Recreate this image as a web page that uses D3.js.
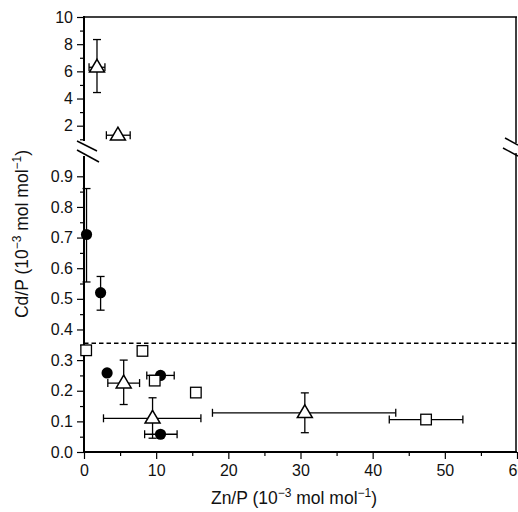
<!DOCTYPE html>
<html>
<head>
<meta charset="utf-8">
<script src="https://cdn.jsdelivr.net/npm/d3@7"></script>
<style>
  body { margin: 0; background: #fff; }
  svg { font-family: "Liberation Sans", Arial, sans-serif; }
</style>
</head>
<body>
<div id="chart"></div>
<script>
  // values (Zn/P, Cd/P in 10^-3 mol/mol)
  // [x, y, xLo, xHi, yLo, yHi]  (null = no error bar)
  var circles = [
    [0.35, 0.71, null, null, 0.555, 0.86],
    [2.3, 0.52, null, null, 0.463, 0.573],
    [3.2, 0.258, null, null, null, null],
    [10.6, 0.25, 8.7, 12.5, null, null],
    [10.6, 0.058, 8.4, 12.9, null, null]
  ];
  var squares = [
    [0.3, 0.332, null, null, null, null],
    [8.1, 0.33, null, null, null, null],
    [9.8, 0.233, null, null, null, null],
    [15.5, 0.194, null, null, null, null],
    [47.4, 0.106, 42.3, 52.5, null, null]
  ];
  var trianglesLow = [
    [5.5, 0.225, 3.3, 7.7, 0.155, 0.30],
    [9.5, 0.11, 2.7, 16.2, 0.045, 0.177],
    [30.6, 0.128, 17.8, 43.2, 0.063, 0.193]
  ];
  var trianglesHigh = [
    [1.8, 6.3, 0.7, 2.9, 4.44, 8.34],
    [4.7, 1.3, 3.1, 6.4, null, null]
  ];
  var dashedLevel = 0.355;

  var xTicks = [0, 10, 20, 30, 40, 50, 60];
  var yLowTicks = [0, 0.1, 0.2, 0.3, 0.4, 0.5, 0.6, 0.7, 0.8, 0.9];
  var yHighTicks = [2, 4, 6, 8, 10];

  var svgWidth = 518, svgHeight = 512;
  var plotLeft = 84, plotRight = 517, plotBottom = 452, plotTop = 17;
  var lowTop = 156, highBottom = 141;

  var svg = d3.select("#chart").append("svg")
    .attr("width", svgWidth)
    .attr("height", svgHeight);

  var x = d3.scaleLinear().domain([0, 60]).range([plotLeft, plotRight]);
  var yLow = d3.scaleLinear().domain([0, 0.9]).range([plotBottom, 176.3]);
  var yHigh = d3.scaleLinear().domain([2, 10]).range([125.7, plotTop]);

  // axes
  svg.append("g")
    .attr("transform", `translate(0, ${plotBottom})`)
    .call(d3.axisBottom(x).tickValues(xTicks).tickSize(7).tickPadding(6).tickFormat(d3.format("d")));
  svg.append("g")
    .attr("transform", `translate(0, ${plotBottom})`)
    .call(d3.axisBottom(x).tickValues(d3.range(5, 60, 10)).tickSize(4).tickFormat(""));

  svg.append("g")
    .attr("transform", `translate(${plotLeft}, 0)`)
    .call(d3.axisLeft(yLow).tickValues(yLowTicks).tickSize(7).tickPadding(4).tickFormat(d3.format(".1f")));
  svg.append("g")
    .attr("transform", `translate(${plotLeft}, 0)`)
    .call(d3.axisLeft(yLow).tickValues(d3.range(0.05, 0.95, 0.1)).tickSize(4).tickFormat(""));

  svg.append("g")
    .attr("transform", `translate(${plotLeft}, 0)`)
    .call(d3.axisLeft(yHigh).tickValues(yHighTicks).tickSize(7).tickPadding(4).tickFormat(d3.format("d")));
  svg.append("g")
    .attr("transform", `translate(${plotLeft}, 0)`)
    .call(d3.axisLeft(yHigh).tickValues([1, 3, 5, 7, 9]).tickSize(4).tickFormat(""));

  svg.selectAll(".domain").remove();
  svg.selectAll(".tick line").attr("stroke", "#000").attr("stroke-width", 1.2);
  svg.selectAll(".tick text")
    .attr("fill", "#111")
    .style("font-size", "16px")
    .style("font-family", "'Liberation Sans', Arial, sans-serif");

  // frame lines with the break
  var frame = svg.append("g").attr("stroke", "#000").attr("fill", "none");
  frame.append("line").attr("x1", plotLeft).attr("x2", plotLeft).attr("y1", plotTop - 1).attr("y2", highBottom).attr("stroke-width", 2);
  frame.append("line").attr("x1", plotLeft).attr("x2", plotLeft).attr("y1", lowTop).attr("y2", plotBottom + 1).attr("stroke-width", 2);
  frame.append("line").attr("x1", plotLeft - 1).attr("x2", plotRight).attr("y1", plotBottom).attr("y2", plotBottom).attr("stroke-width", 2.2);
  frame.append("line").attr("x1", plotLeft).attr("x2", plotRight).attr("y1", plotTop).attr("y2", plotTop).attr("stroke-width", 1.5);
  frame.append("line").attr("x1", 516).attr("x2", 516).attr("y1", plotTop).attr("y2", 143).attr("stroke-width", 1.5);
  frame.append("line").attr("x1", 516).attr("x2", 516).attr("y1", 153).attr("y2", plotBottom).attr("stroke-width", 1.5);

  // break marks
  [[77, 141, 97, 151], [77, 150, 99, 162], [505, 138, 518, 145], [503, 148, 518, 156]].forEach(function (b) {
    frame.append("line")
      .attr("x1", b[0]).attr("y1", b[1]).attr("x2", b[2]).attr("y2", b[3])
      .attr("stroke-width", 1.5);
  });

  // dashed line
  svg.append("line")
    .attr("x1", plotLeft).attr("x2", 516)
    .attr("y1", yLow(dashedLevel)).attr("y2", yLow(dashedLevel))
    .attr("stroke", "#000").attr("stroke-width", 1.5)
    .attr("stroke-dasharray", "4.5,3");

  // error bars
  var errG = svg.append("g").attr("stroke", "#000").attr("stroke-width", 1.3).attr("fill", "none");
  var cap = 4;
  function drawErrors(data, y) {
    data.forEach(function (d) {
      var cx = x(d[0]), cy = y(d[1]);
      if (d[2] != null) {
        errG.append("line").attr("x1", x(d[2])).attr("x2", x(d[3])).attr("y1", cy).attr("y2", cy);
        [d[2], d[3]].forEach(function (v) {
          errG.append("line").attr("x1", x(v)).attr("x2", x(v)).attr("y1", cy - cap).attr("y2", cy + cap);
        });
      }
      if (d[4] != null) {
        errG.append("line").attr("x1", cx).attr("x2", cx).attr("y1", y(d[4])).attr("y2", y(d[5]));
        [d[4], d[5]].forEach(function (v) {
          errG.append("line").attr("x1", cx - cap).attr("x2", cx + cap).attr("y1", y(v)).attr("y2", y(v));
        });
      }
    });
  }
  drawErrors(circles, yLow);
  drawErrors(squares, yLow);
  drawErrors(trianglesLow, yLow);
  drawErrors(trianglesHigh, yHigh);

  // markers
  var marks = svg.append("g");
  marks.selectAll("circle.pt")
    .data(circles)
    .enter()
    .append("circle")
    .attr("class", "pt")
    .attr("cx", d => x(d[0]))
    .attr("cy", d => yLow(d[1]))
    .attr("r", 5.6)
    .attr("fill", "#000");

  marks.selectAll("rect.pt")
    .data(squares)
    .enter()
    .append("rect")
    .attr("class", "pt")
    .attr("x", d => x(d[0]) - 5.3)
    .attr("y", d => yLow(d[1]) - 5.3)
    .attr("width", 10.6)
    .attr("height", 10.6)
    .attr("fill", "#fff")
    .attr("stroke", "#000")
    .attr("stroke-width", 1.3);

  function triPath(cx, cy) {
    return `M${cx},${cy - 8}L${cx + 7.5},${cy + 4.8}L${cx - 7.5},${cy + 4.8}Z`;
  }
  marks.selectAll("path.lo")
    .data(trianglesLow)
    .enter()
    .append("path")
    .attr("class", "lo")
    .attr("d", d => triPath(x(d[0]), yLow(d[1])))
    .attr("fill", "#fff")
    .attr("stroke", "#000")
    .attr("stroke-width", 1.5);
  marks.selectAll("path.hi")
    .data(trianglesHigh)
    .enter()
    .append("path")
    .attr("class", "hi")
    .attr("d", d => triPath(x(d[0]), yHigh(d[1])))
    .attr("fill", "#fff")
    .attr("stroke", "#000")
    .attr("stroke-width", 1.5);

  // axis titles
  function addTitle(t) {
    t.append("tspan").text(t.attr("data-lead"));
    t.append("tspan").attr("dy", -7).style("font-size", "12px").text("\u22123");
    t.append("tspan").attr("dy", 7).text(" mol mol");
    t.append("tspan").attr("dy", -7).style("font-size", "12px").text("\u22121");
    t.append("tspan").attr("dy", 7).text(")");
  }
  var yTitle = svg.append("text")
    .attr("transform", "translate(28, 234) rotate(-90)")
    .attr("text-anchor", "middle")
    .attr("data-lead", "Cd/P (10")
    .style("font-size", "17.5px")
    .attr("fill", "#111");
  addTitle(yTitle);

  var xTitle = svg.append("text")
    .attr("x", 294)
    .attr("y", 504)
    .attr("text-anchor", "middle")
    .attr("data-lead", "Zn/P (10")
    .style("font-size", "17.5px")
    .attr("fill", "#111");
  addTitle(xTitle);
</script>
</body>
</html>
